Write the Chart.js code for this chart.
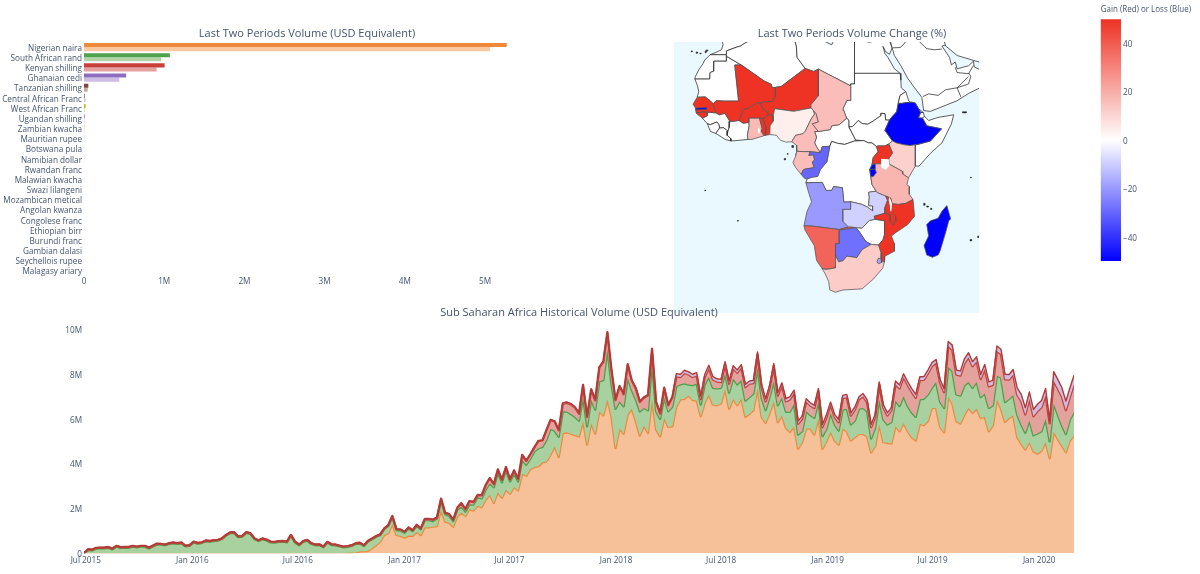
<!DOCTYPE html>
<html><head><meta charset="utf-8">
<style>html,body{margin:0;padding:0;background:#fff;width:1200px;height:574px;overflow:hidden}canvas{position:absolute}</style>
<script src="https://cdn.jsdelivr.net/npm/chart.js@4"></script>
</head><body>
<canvas id="bars" width="614" height="290" style="left:0;top:0"></canvas>
<canvas id="map" width="356" height="320" style="left:674px;top:0"></canvas>
<canvas id="cbar" width="104" height="270" style="left:1095px;top:0"></canvas>
<canvas id="area" width="1158" height="284" style="left:0;top:290px"></canvas>
<script>
// ---------- bar panel ----------
const currencies=["Nigerian naira","South African rand","Kenyan shilling","Ghanaian cedi","Tanzanian shilling","Central African Franc","West African Franc","Ugandan shilling","Zambian kwacha","Mauritian rupee","Botswana pula","Namibian dollar","Rwandan franc","Malawian kwacha","Swazi lilangeni","Mozambican metical","Angolan kwanza","Congolese franc","Ethiopian birr","Burundi franc","Gambian dalasi","Seychellois rupee","Malagasy ariary"];
const latestPeriod=[5.27,1.07,1.005,0.525,0.054,0.012,0.02,0.012,0.006,0.004,0.002,0.002,0.001,0.001,0.001,0.001,0.001,0.0005,0.0005,0.0005,0.0003,0.0002,0.0001];
const priorPeriod=[5.06,0.96,0.905,0.44,0.046,0.018,0.012,0.006,0.007,0.005,0.003,0.002,0.001,0.001,0.001,0.001,0.001,0.0005,0.0005,0.0005,0.0003,0.0002,0.0001];
const barColors=["#f0883c","#4ea34c","#c8403c","#8e6cc0","#7b4a42","#8a8a8a","#bcbd22","#e377c2","#f4b183","#aec7e8","#98df8a","#ff9896","#c5b0d5","#c49c94","#f7b6d2","#c7c7c7","#dbdb8d","#9edae5","#1f77b4","#ff7f0e","#2ca02c","#d62728","#9467bd"];
const barColorsLight=["#f9c7a0","#b0d4a5","#e3a19f","#cdbce3","#c4aba5","#c8c8c8","#e4e4a0","#f4c8e6","#fadcc6","#d8e4f4","#d0efc8","#ffd0cf","#e4d8ea","#e3cfca","#fbdde9","#e6e6e6","#eeeec8","#cfedf2","#a5c9e1","#ffcb9e","#abd9ab","#eea9a9","#d4c3e4"];
const volumeTicks=[0,1,2,3,4,5];
// ---------- history panel (millions of USD per week) ----------
const historyTickDays=[3,187,369,553,734,918,1099,1283,1464,1648];
const historyTickLabels=["Jul 2015","Jan 2016","Jul 2016","Jan 2017","Jul 2017","Jan 2018","Jul 2018","Jan 2019","Jul 2019","Jan 2020"];
const historyValueTicks=[0,2,4,6,8,10];
const naira=[0,.01,.01,.01,.01,.01,.01,.01,.01,.01,
.01,.01,.01,.01,.01,.01,.01,.01,.01,.01,
.01,.01,.01,.01,.01,.01,.01,.01,.01,.01,
.01,.01,.01,.01,.01,.01,.01,.01,.01,.01,
.01,.01,.01,.01,.01,.01,.01,.01,.01,.01,
.01,.01,.01,.01,.01,.01,.01,.01,.01,.01,
.01,.01,.01,.01,.01,.02,.02,.04,.09,.09,
.10,.22,.37,.52,.82,.90,1.31,.82,.78,.70,
.79,.78,.96,.82,1.16,1.16,1.19,1.22,1.94,1.42,
1.37,1.19,1.64,1.82,1.67,1.97,1.91,2.12,2.06,2.39,
2.61,2.25,2.72,2.48,2.84,2.66,2.96,2.81,3.55,3.46,
3.76,3.85,3.88,4.06,4.10,4.40,4.78,4.30,5.37,5.40,
5.34,5.28,5.22,5.90,4.85,5.82,5.34,6.34,6.15,6.87,
6.12,4.70,5.57,5.34,6.19,6.45,5.90,5.25,5.70,5.37,
6.87,5.52,5.22,6.04,5.64,5.67,6.54,6.87,6.90,7.04,
6.84,6.82,6.12,6.72,7.09,6.64,6.61,6.69,7.34,6.45,
6.90,6.61,6.91,6.09,6.22,6.39,7.39,6.09,5.82,6.27,
6.79,5.85,6.16,5.60,5.42,5.67,4.67,4.96,5.57,5.57,
5.30,6.04,4.66,5.00,5.42,5.03,4.85,5.57,5.45,5.03,
5.19,5.33,5.33,5.22,4.51,4.78,5.75,4.96,4.93,4.90,
5.67,5.45,5.82,5.45,5.19,5.03,5.78,5.72,5.90,6.49,
6.49,5.64,5.40,6.99,6.69,5.90,5.79,6.19,6.49,6.27,
6.46,6.04,6.09,5.45,5.70,6.87,6.45,5.87,6.04,6.16,
5.19,4.90,4.63,4.97,4.55,4.45,4.58,4.96,4.25,5.42,
5.10,4.81,4.51,5.04,5.25];
const rand=[0,.14,.12,.20,.21,.21,.24,.17,.29,.23,
.24,.24,.29,.26,.29,.29,.21,.30,.39,.38,
.35,.41,.44,.41,.44,.30,.32,.48,.42,.45,
.53,.51,.54,.56,.63,.78,.89,.90,.71,.74,
.90,.86,.63,.54,.62,.57,.48,.47,.50,.51,
.48,.78,.48,.35,.50,.56,.41,.35,.36,.26,
.47,.36,.35,.30,.26,.27,.31,.38,.35,.24,
.43,.41,.37,.29,.26,.33,.31,.22,.24,.22,
.32,.21,.27,.25,.32,.32,.25,.33,.42,.33,
.30,.25,.30,.27,.19,.22,.27,.39,.39,.45,
.52,.70,.87,.69,.87,.55,.60,.40,.63,.49,
.46,.70,.81,.69,.97,1.16,.69,.90,.97,.93,
.88,.81,.70,1.09,.82,1.04,1.07,1.34,1.58,2.24,
1.42,1.75,1.22,1.22,1.64,.84,.97,1.09,.79,1.01,
1.64,.82,.78,.94,.70,.87,.93,.67,.69,.49,
.67,.76,.52,.82,.79,.75,.75,.70,.67,.72,
.90,.93,.84,.73,.75,.75,.90,.85,.57,.72,
.90,.76,.81,.72,.90,1.01,.63,.49,.78,.60,
.75,.75,.57,.55,.85,.72,.63,.85,1.00,.72,
.73,1.12,1.16,1.12,.61,.82,1.12,1.01,.82,.96,
1.15,1.12,1.19,1.12,1.10,1.06,1.09,1.18,1.19,.90,
1.16,1.12,1.09,1.33,1.45,1.19,1.25,1.31,1.15,1.12,
1.19,.93,1.04,1.04,.90,1.07,1.39,.88,.85,.91,
1.00,.85,.75,.96,.72,.90,.87,1.04,.75,1.27,
1.09,.90,.82,.93,1.06];
const shilling=[0,.03,.03,.03,.03,.03,.03,.03,.03,.03,
.03,.03,.03,.03,.03,.03,.03,.03,.03,.03,
.03,.03,.03,.03,.03,.03,.03,.03,.03,.03,
.03,.03,.03,.03,.03,.03,.03,.03,.03,.03,
.03,.03,.03,.03,.03,.03,.03,.03,.03,.03,
.03,.03,.03,.03,.03,.03,.03,.03,.03,.03,
.03,.03,.03,.03,.03,.03,.03,.03,.03,.03,
.03,.03,.03,.03,.03,.03,.04,.04,.04,.04,
.04,.04,.04,.04,.05,.05,.06,.05,.08,.06,
.08,.06,.09,.15,.11,.14,.11,.09,.14,.20,
.23,.14,.15,.11,.14,.09,.14,.11,.21,.18,
.20,.18,.33,.29,.44,.39,.42,.29,.34,.39,
.43,.42,.31,.52,.42,.45,.42,.61,.82,.75,
.64,.39,.67,.54,.60,.42,.49,.42,.46,.67,
.61,.42,.24,.40,.27,.42,.43,.33,.46,.45,
.36,.36,.25,.33,.39,.37,.31,.25,.42,.40,
.45,.52,.55,.60,.60,.46,.58,.48,.39,.40,
.66,.43,.52,.46,.55,.48,.48,.55,.43,.43,
.43,.45,.40,.52,.36,.33,.37,.51,.52,.40,
.49,.42,.52,.40,.51,.48,.66,.55,.40,.52,
.72,.79,.85,.94,.91,.85,.86,.84,.94,.97,
.85,.85,.70,.93,.95,.89,.89,.98,1.11,.96,
.92,.81,1.10,.96,.92,1.09,1.05,1.02,.87,.91,
.89,1.04,.82,.97,.85,1.00,1.07,1.06,.80,1.02,
1.17,1.29,1.06,1.02,1.23];
const cedi=[0,.01,.01,.01,.01,.01,.01,.01,.01,.01,
.01,.01,.01,.01,.01,.01,.01,.01,.01,.01,
.01,.01,.01,.01,.01,.01,.01,.01,.01,.01,
.01,.01,.01,.01,.01,.01,.01,.01,.01,.01,
.01,.01,.01,.01,.01,.01,.01,.01,.01,.01,
.01,.01,.01,.01,.01,.01,.01,.01,.01,.01,
.01,.01,.01,.01,.01,.01,.01,.01,.01,.01,
.01,.01,.01,.01,.01,.01,.01,.01,.01,.01,
.01,.01,.01,.01,.01,.01,.01,.01,.01,.01,
.01,.01,.01,.01,.01,.01,.01,.01,.01,.01,
.01,.01,.01,.01,.01,.01,.01,.01,.01,.01,
.01,.01,.01,.01,.01,.01,.01,.01,.03,.03,
.03,.03,.03,.03,.03,.03,.03,.03,.03,.03,
.03,.03,.03,.03,.03,.03,.03,.03,.03,.03,
.03,.03,.03,.03,.03,.03,.12,.12,.12,.12,
.12,.12,.12,.12,.12,.12,.12,.12,.12,.12,
.12,.12,.12,.12,.12,.12,.12,.12,.12,.12,
.12,.12,.12,.12,.12,.12,.12,.12,.12,.12,
.12,.12,.12,.12,.12,.12,.12,.12,.12,.12,
.12,.12,.12,.12,.12,.12,.12,.12,.12,.12,
.15,.15,.15,.15,.15,.15,.15,.15,.15,.15,
.15,.15,.15,.20,.20,.20,.20,.20,.20,.20,
.20,.20,.20,.20,.20,.22,.22,.22,.22,.22,
.30,.30,.30,.30,.30,.30,.30,.30,.10,.40,
.40,.40,.40,.40,.40];
// ---------- map panel: [lon,lat,...] outlines, change in % (null = no data) ----------
const countryNames=["Morocco","Western Sahara","Mauritania","Algeria","Tunisia","Libya","Egypt","Sudan","South Sudan","Eritrea","Djibouti","Somalia","Guinea","Sierra Leone","Liberia","Cote d'Ivoire","Central African Republic","Equatorial Guinea","DR Congo","Zimbabwe","Lesotho","Arabia","Iran",
"Senegal","Gambia","Guinea-Bissau","Mali","Burkina Faso","Ghana","Togo","Benin","Niger","Nigeria","Cameroon","Chad","Gabon","Congo","Ethiopia","Kenya","Uganda","Rwanda","Burundi","Tanzania","Angola","Zambia","Malawi","Mozambique","Namibia","Botswana","South Africa","Swaziland","Madagascar"];
const countryChange=[null,null,null,null,null,null,null,null,null,null,null,null,null,null,null,null,null,null,null,null,null,null,null,
50,-50,50,50,50,17,50,50,50,4,16,16,16,-30,-50,11.5,50,-50,-50,18,-20,-9,50,50,38,-28,12.5,-18,-50];
const countryShapes=[
[-9.8,31.5,-9.6,30.3,-10,29,-11.5,28.3,-13,27.7,-8.7,27.7,-8.7,28.7,-6,29.7,-5,30,-3.6,30.9,-1.2,32.1,-1,33,-2,35,-5,35.7,-6,35.8,-7,33.8,-9,32.8],
[-13,27.7,-8.7,27.7,-8.7,27.3,-8.7,26,-12,26,-12,23.4,-13,23,-13.1,21.3,-17,21.3,-16.9,21.9,-16,23.7,-14.9,25.3,-14.4,26.3],
[-17,21.3,-13.1,21.3,-13,23,-12,23.4,-12,26,-8.7,26,-8.7,27.3,-4.8,25,-6.5,25,-5.5,15.5,-9.3,15.5,-11.4,15.6,-12.2,14.8,-13,15.6,-14.3,16.6,-16.4,16.5,-16,18,-16.3,19.5],
[-8.7,27.3,-8.7,28.7,-6,29.7,-5,30,-3.6,30.9,-1.2,32.1,-1,33,-2,35,1,36.5,8.6,37,8.3,34.6,7.5,33.8,9.1,32.1,9.7,30,9.9,27,12,24.1,5.8,19.4,4.2,19.1,3.3,19,3.1,19.9,1.2,20.8,-4.8,25],
[8.6,37,11,37,10.2,34.5,11.5,33.2,9.1,32.1,7.5,33.8,8.3,34.6],
[9.1,32.1,11.5,33.2,15,32.3,19,30.3,20,32.5,25,31.7,25,22.8,25,20,24,20,24,19.5,15.5,23.9,14.2,23.3,12,24.1,9.9,27,9.7,30],
[25,31.7,29,31,31,31.5,34.2,31.3,34.9,29.5,34.2,27.8,33.2,28.5,32.5,29.9,33,28,33.8,27,35.5,24,37,22.8,25,22.8],
[25,22.8,37,22.8,37.2,21,37.3,19,38.5,18,37,17,36.5,14.9,36.1,12.7,35,11.5,34.2,10.5,33.2,10.5,33,12.2,32,12.3,32,11.7,30,10.3,28.5,9.4,27,9.6,26,10.4,24.5,8.8,23.5,8.7,23.5,10.5,22.9,11,22.2,13,22,13.6,23,15.7,24,15.7,24,19.5,24,20,25,20],
[33,7.8,35,5,34,4.2,33,3.7,31,3.7,30.8,3.5,29.6,4.5,28.7,4.5,27.4,5.1,25.3,5.2,23.5,8.7,24.5,8.8,26,10.4,27,9.6,28.5,9.4,30,10.3,32,11.7,32,12.3,33,12.2,33.2,10.5,34.2,10.5],
[36.5,14.9,37,17,38.5,18,39.3,15.5,43.1,12.5,42.4,12.5,41,15,40,15.2,38.5,15.1,37.5,14.9],
[42.4,12.5,43.1,12.5,43.4,11.5,42.9,11,41.8,11.1],
[42.9,11,43.4,11.5,44.5,10.4,47,11.2,51.1,11.9,50.5,9.5,48,4.5,45,1.8,42,-1.6,41,-1.6,41,4,42,4.2,45,5,47.9,8.2,44,9],
[-15,11,-13.7,9.5,-12.9,9.3,-11.2,10,-10.7,9.3,-10.5,8.4,-9.5,8.5,-8.3,7.6,-8,8.5,-7.8,10.2,-8.3,11,-9.1,12.3,-10.6,11.9,-11.4,12.4,-13.7,12.6,-13.7,11.7],
[-13.7,9.5,-12.9,9.3,-11.2,10,-10.7,9.3,-10.5,8.4,-11.5,7,-12.9,7.5],
[-11.5,7,-10.5,8.4,-9.5,8.5,-8.3,7.6,-8.5,6.5,-7.5,5.6,-7.5,5,-9,5.4],
[-8,8.5,-8.3,7.6,-8.5,6.5,-7.5,5.6,-7.5,5,-3,5.4,-3.2,6.5,-2.7,9,-2.8,9.9,-4.3,9.7,-5.4,10.4,-7,10.2,-7.8,10.2],
[14.5,4.5,15,3.5,16,1.9,16.5,3.5,18.5,3.6,19,4.9,20.5,4.4,22.4,4.1,25,5,27.4,5.1,25.3,5.2,23.5,8.7,23.5,10.5,22.9,11,21,9.3,19,9,18.6,8,15.5,7.5,14.5,7.5,15,6],
[9.8,2.3,9.5,1,11.3,1,11.3,2.2],
[12.2,-6,12.5,-5,13,-4.6,15.3,-4.3,16,-2.5,17.7,-.5,18.5,3.6,19,4.9,20.5,4.4,22.4,4.1,25,5,27.4,5.1,28.7,4.5,29.6,4.5,30.8,3.5,31.2,2.2,29.9,.6,29.6,-1.3,29,-2.5,29.3,-4.4,29.6,-6.5,30.7,-8.2,28.7,-8.5,28.9,-9.8,28.7,-12,29.8,-12.1,29.8,-13.4,28.4,-12.4,27,-11.7,25.4,-11.3,24,-11,22.2,-11.1,21.8,-7.3,19.5,-7,19,-8,17.5,-8,16.5,-5.9],
[25.3,-17.8,27,-17.9,28.9,-15.9,30.4,-15.6,33,-16,32.8,-18,33,-19.5,32.5,-21,31.3,-22.4,29.4,-22.2,28,-21.5,27,-20,26,-18.5],
[27,-29.7,28.2,-28.8,29.4,-29.5,28.8,-30.4,27.8,-30.5],
[34.9,29.5,35.5,27.5,37.2,24.8,39,21.5,40.8,19,42.7,16.5,43.2,13,45,12.8,48,14,52,15.6,55,17.5,58,19,60,22.5,59.5,23,56.5,24.5,56.3,26,55,24.8,52,24,51.5,25.8,50.5,25,50,27,48,30,60,33,34,33],
[49,30,52,27.5,57,26,61,25,61,33,48,33],
[-17.5,14.7,-16.4,16.5,-14.3,16.6,-13,15.6,-12.2,14.8,-11.8,13.3,-11.4,12.4,-13.7,12.6,-15,12.6,-16.7,12.4,-16.8,13.2,-16.8,13.6],
[-16.8,13.65,-14,13.8,-13.8,13.3,-16.8,13.2],
[-16.7,12.4,-15,12.6,-13.7,12.6,-13.7,11.7,-15,11,-16.2,11.9],
[-12.2,14.8,-11.4,15.6,-9.3,15.5,-5.5,15.5,-6.5,25,-4.8,25,1.2,20.8,3.1,19.9,3.3,19,4.2,19.1,4.2,16.8,3.5,15.4,1.3,15.3,.2,14.9,-.5,15.1,-2,14.2,-3,13.6,-4.3,13.2,-5.4,10.4,-7,10.2,-7.8,10.2,-8.3,11,-9.1,12.3,-10.6,11.9,-11.4,12.4,-11.8,13.3],
[-5.4,10.4,-4.3,9.7,-2.8,9.9,-2.8,11,0,11,.9,10.9,2.4,11.9,2.1,12.7,1,13.3,.2,14.9,-.5,15.1,-2,14.2,-3,13.6,-4.3,13.2],
[-3,5.4,-2,5.4,1.2,6.4,.5,7.5,.7,8.3,0,11,-2.8,11,-2.8,9.9,-2.7,9,-3.2,6.5],
[1.2,6.4,1.6,6.5,1.6,9,.9,10.9,0,11,.7,8.3,.5,7.5],
[1.6,6.5,2.7,6.7,2.8,9,3.6,10.2,3.6,11.7,2.4,11.9,.9,10.9,1.6,9],
[.2,14.9,1,13.3,2.1,12.7,2.4,11.9,3.6,11.7,4,13.5,6.8,13.1,9,12.8,13.6,13.7,13.5,14.5,15.5,16.9,15.5,23.9,14.2,23.3,12,24.1,5.8,19.4,4.2,19.1,4.2,16.8,3.5,15.4,1.3,15.3],
[2.7,6.7,4.5,6.5,5.5,5.2,7,4.7,8.5,4.8,9.5,6.5,11.4,6.9,12,7.5,13.6,10.8,14.5,12.1,14.2,13,13.6,13.7,9,12.8,6.8,13.1,4,13.5,3.6,11.7,3.6,10.2,2.8,9],
[8.5,4.8,9.7,3.9,9.8,2.3,11.3,2.2,13.3,2.2,16,1.9,15,3.5,14.5,4.5,15,6,14.5,7.5,15.5,7.5,13.9,9.5,15.5,10,14.9,12.2,14.2,13,14.5,12.1,13.6,10.8,12,7.5,11.4,6.9,9.5,6.5],
[13.5,14.5,13.6,13.7,14.2,13,14.9,12.2,15.5,10,13.9,9.5,15.5,7.5,18.6,8,19,9,21,9.3,22.9,11,22.2,13,22,13.6,23,15.7,24,15.7,24,19.5,15.5,23.9,15.5,16.9],
[9.8,2.3,11.3,2.2,13.3,2.2,13,1.2,14.2,1.4,14.5,0,13.9,-.5,14.4,-2,12,-2.4,11.5,-2.6,11,-3.8,9.5,-2,8.8,-.7,9.5,1],
[13,1.2,13.3,2.2,16,1.9,16.5,3.5,18.5,3.6,17.7,-.5,16,-2.5,15.3,-4.3,14,-4.5,12.5,-5,11.8,-4.8,11,-3.8,11.5,-2.6,12,-2.4,14.4,-2,13.9,-.5,14.5,0,14.2,1.4],
[36.5,14.9,37.5,14.9,38.5,15.1,40,15.2,41,15,42.4,12.5,41.8,11.1,42.9,11,44,9,47.9,8.2,45,5,42,4.2,41,4,39.6,3.8,38,4,36,4.5,35,5,33,7.8,34.2,10.5,35,11.5,36.1,12.7],
[41,4,41,-1.6,39.2,-4.7,37.7,-3.7,37.6,-3,34,-1,33.9,.2,35,1.9,34,4.2,35,5,36,4.5,38,4,39.6,3.8],
[34,4.2,35,1.9,33.9,.2,34,-1,30.5,-1,29.6,-1.3,29.9,.6,31.2,2.2,30.8,3.5,31,3.7,33,3.7],
[30.5,-1,29.6,-1.3,29,-2.5,30.4,-2.4],
[29,-2.5,30.4,-2.4,30.8,-3.3,29.9,-4.4,29.3,-4.4],
[34,-1,37.6,-3,37.7,-3.7,39.2,-4.7,38.8,-6.5,39.5,-7,39.4,-9,40.4,-10.4,38.5,-11.4,36.5,-11.7,34.9,-11.5,34.5,-10,33.2,-9.5,31,-8.6,30.7,-8.2,29.6,-6.5,29.3,-4.4,29.9,-4.4,30.8,-3.3,30.4,-2.4,30.5,-1],
[12.2,-6,16.5,-5.9,17.5,-8,19,-8,19.5,-7,21.8,-7.3,22.2,-11.1,24,-11,24,-13,22,-13,22,-16.2,23.4,-17.6,21,-18.3,13.9,-17.4,11.7,-17.3,12.5,-13.5,13.7,-11,13,-8.8],
[22,-13,24,-13,24,-11,25.4,-11.3,27,-11.7,28.4,-12.4,29.8,-13.4,29.8,-12.1,28.7,-12,28.9,-9.8,28.7,-8.5,30.7,-8.2,31,-8.6,33.2,-9.5,33.7,-10.6,33,-12.5,33,-14,30.2,-14.8,30.4,-15.6,28.9,-15.9,27,-17.9,25.3,-17.8,23.4,-17.6,22,-16.2],
[33.2,-9.5,34.5,-10,34.9,-11.5,34.5,-13.5,35.3,-14.3,35.9,-15,35.8,-16,35.2,-17.1,34.4,-16.2,34.4,-14.5,33,-14,33,-12.5,33.7,-10.6],
[40.4,-10.4,40.8,-14.8,39,-17,36,-19,34.7,-20,35.5,-22,35.5,-24,33,-25.3,32.9,-26.8,32,-26.8,32,-24.5,31.3,-22.4,32.5,-21,33,-19.5,32.8,-18,33,-16,30.4,-15.6,30.2,-14.8,33,-14,34.4,-14.5,34.4,-16.2,35.2,-17.1,35.8,-16,35.9,-15,35.3,-14.3,34.5,-13.5,34.9,-11.5,36.5,-11.7,38.5,-11.4],
[11.7,-17.3,13.9,-17.4,21,-18.3,23.4,-17.6,25.3,-17.8,24,-18,21,-18.5,21,-22,20,-22,20,-28.4,17.5,-28.8,16.5,-28.6,15,-26.4,14.4,-22.5,12,-18.5],
[21,-18.5,24,-18,25.3,-17.8,26,-18.5,27,-20,28,-21.5,29.4,-22.2,27,-23.6,25.6,-25.7,23,-25.3,22,-26.5,20.8,-26.8,20,-25,20,-22,21,-22],
[16.5,-28.6,17.5,-28.8,20,-28.4,20,-25,20.8,-26.8,22,-26.5,23,-25.3,25.6,-25.7,27,-23.6,29.4,-22.2,31.3,-22.4,32,-24.5,32,-26.8,32.9,-26.8,32.4,-28.5,30,-31.3,27,-33.9,25.6,-34,22,-34.2,20,-34.8,18.5,-34.2,18.2,-32,17.2,-29.8],
[30.9,-26.8,31.3,-25.8,32,-26,32.1,-27,31.3,-27.3],
[49.3,-12,50.3,-15.5,49.8,-16,49,-19,47.5,-24,47,-25,45.5,-25.6,44,-25,43.3,-22.5,44.5,-20,44,-17,45,-16,47,-15.3,48,-13.5]
];
const lakeShapes=[[32,.3,34,.2,34.2,-1.5,33.2,-2.6,32,-2],[34.2,-9.7,34.9,-11.5,34.7,-13.5,34.4,-13.5,34.3,-12,34,-10.5],[-.2,6.8,.2,7.5,-.1,8.6,-.5,8,-.3,7.1]];
const islandShapes=[[-18,28.7,-17.7,28.7,-17.7,28.5,-18,28.5],[-16.7,28.4,-16.3,28.4,-16.3,28.1,-16.7,28.1],[-15.7,28.1,-15.4,28.1,-15.4,27.9,-15.7,27.9],[-14.3,28.7,-13.8,29,-13.6,28.8,-14.1,28.2],[-14.4,-7.9,-14.2,-7.9,-14.2,-8.1,-14.4,-8.1],[-5.8,-15.9,-5.6,-15.9,-5.6,-16.1,-5.8,-16.1],[6.5,.4,6.8,.4,6.8,0,6.5,0],[7.3,1.7,7.5,1.7,7.5,1.5,7.3,1.5],[8.5,3.8,8.9,3.8,8.9,3.3,8.5,3.3],[43.2,-11.4,43.5,-11.4,43.5,-11.9,43.2,-11.9],[44,-12.1,44.4,-12.1,44.4,-12.4,44,-12.4],[45,-12.7,45.3,-12.7,45.3,-13,45,-13],[55.5,-4.5,55.7,-4.5,55.7,-4.7,55.5,-4.7],[55.4,-20.9,55.8,-20.9,55.8,-21.3,55.4,-21.3],[57.4,-20,57.7,-20,57.7,-20.4,57.4,-20.4],[53.4,12.7,54.4,12.7,54.4,12.4,53.4,12.4]];
const landBorders=[[43,16.7,44.5,17.4,47,17,49,18.5,52,19,53,16.6],[52,19,55,20,55.6,22,55.2,22.7,52,23,51.5,24.4],[52,19,55,22],[34.9,29.5,37,29.6,38,30.5,39,32],[48,29.2,46,29,44,29.3,42,31.2],[55,22.7,56.3,24.9]];
const colorStops=[-50,0,50];
const colorStopRGB=[[0,0,255],[255,255,255],[238,50,36]];
const mapLonRange=[-22.5,57.76];
const mapLatRange=[-40.26,31.05];
const colorBarTicks=[-40,-20,0,20,40];

// ---------- common ----------
Chart.defaults.font.family="'Open Sans', sans-serif";
Chart.defaults.color="#44546f";
Chart.defaults.animation=false;
Chart.defaults.responsive=false;
const TITLE_SIZE=11,TICK_SIZE=8.2,TITLE_COLOR="#44546f",LABEL_NUDGE=1.4;
const titleCfg=(text,top,bottom,size=TITLE_SIZE,fullSize=true)=>({display:true,text,fullSize,color:TITLE_COLOR,font:{size,weight:'normal',lineHeight:1.2},padding:{top,bottom}});
const noneCfg={legend:{display:false},tooltip:{enabled:false}};
const pairs=a=>{const o=[];for(let i=0;i<a.length;i+=2)o.push({x:a[i],y:a[i+1]});o.push({x:a[0],y:a[1]});return o;};
const openPairs=a=>{const o=[];for(let i=0;i<a.length;i+=2)o.push({x:a[i],y:a[i+1]});return o;};
const fmtM=v=>v===0?"0":v+"M";
function colorFor(v){
  if(v===null)return "#ffffff";
  const i=v<colorStops[1]?0:1;
  const t=(v-colorStops[i])/(colorStops[i+1]-colorStops[i]);
  const c=colorStopRGB[i].map((s,k)=>Math.round(s+(colorStopRGB[i+1][k]-s)*t));
  return `rgb(${c[0]},${c[1]},${c[2]})`;
}

// ---------- bars ----------
new Chart(document.getElementById('bars'),{
  type:'bar',
  data:{labels:currencies,datasets:[
    {data:latestPeriod,backgroundColor:barColors,categoryPercentage:.8,barPercentage:1},
    {data:priorPeriod,backgroundColor:barColorsLight,categoryPercentage:.8,barPercentage:1}]},
  options:{indexAxis:'y',layout:{autoPadding:false,padding:{right:84,bottom:0}},
    plugins:{...noneCfg,title:titleCfg("Last Two Periods Volume (USD Equivalent)",27.4,1.4,TITLE_SIZE,false)},
    scales:{
      y:{grid:{display:false,drawTicks:false},border:{display:false},ticks:{autoSkip:false,padding:2,labelOffset:LABEL_NUDGE,font:{size:TICK_SIZE}},afterFit(s){s.width=84;}},
      x:{min:0,max:5.56,grid:{display:false,drawTicks:false},border:{display:false},
        afterBuildTicks(s){s.ticks=volumeTicks.map(value=>({value}));},
        ticks:{padding:1,maxRotation:0,autoSkip:false,font:{size:TICK_SIZE},callback:fmtM},afterFit(s){s.height=14.2;}}
    }}
});

// ---------- map ----------
const mapSets=[];
const shapeSet=(pts,fillC,lineC,w)=>({data:pts,showLine:true,fill:'shape',backgroundColor:fillC,borderColor:lineC,borderWidth:w,pointRadius:0,tension:0});
countryShapes.forEach((s,i)=>{const v=countryChange[i];mapSets.push(shapeSet(pairs(s),colorFor(v),v===null?"#2b2b2b":"#555555",.75));});
lakeShapes.forEach(s=>mapSets.push(shapeSet(pairs(s),"#ffffff","rgba(0,0,0,0)",0)));
islandShapes.forEach(s=>mapSets.push(shapeSet(pairs(s),"#333333","#222222",.5)));
landBorders.forEach(s=>mapSets.push({data:openPairs(s),showLine:true,fill:false,borderColor:"#2b2b2b",borderWidth:.75,pointRadius:0,tension:0}));
// datasets draw last-to-first, so reverse to keep coloured countries above the white ones
mapSets.reverse();
new Chart(document.getElementById('map'),{
  type:'scatter',
  data:{datasets:mapSets},
  options:{layout:{autoPadding:false,padding:{bottom:7}},
    plugins:{...noneCfg,title:titleCfg("Last Two Periods Volume Change (%)",27.4,1.4)},
    scales:{x:{type:'linear',display:false,min:mapLonRange[0],max:mapLonRange[1]},y:{type:'linear',display:false,min:mapLatRange[0],max:mapLatRange[1]},
      titleOffset:{position:'right',min:0,max:1,grid:{display:false,drawTicks:false},border:{display:false},ticks:{display:false},afterFit(s){s.width=51;}}}},
  plugins:[{id:'ocean',beforeDatasetsDraw(c){const a=c.chartArea,g=c.ctx;g.save();g.fillStyle="#eaf8ff";g.fillRect(a.left,a.top,a.right-a.left,a.bottom-a.top);g.restore();}}]
});

// ---------- colour bar ----------
new Chart(document.getElementById('cbar'),{
  type:'bar',
  data:{labels:[""],datasets:[{data:[[colorStops[0],colorStops[2]]],categoryPercentage:1,barPercentage:1,
    backgroundColor(ctx){const c=ctx.chart,y=c.scales.y;if(!c.chartArea||!y)return "#fff";
      const g=c.ctx.createLinearGradient(0,y.getPixelForValue(colorStops[0]),0,y.getPixelForValue(colorStops[2]));
      colorStops.forEach(v=>g.addColorStop((v-colorStops[0])/(colorStops[2]-colorStops[0]),colorFor(v)));return g;}}]},
  options:{layout:{autoPadding:false,padding:{left:5.7,right:8,bottom:9}},
    plugins:{...noneCfg,title:titleCfg("Gain (Red) or Loss (Blue)",5,4.3,TICK_SIZE)},
    scales:{x:{display:false},
      y:{position:'right',min:-50,max:50,grid:{display:false,drawTicks:false},border:{display:false},
        afterBuildTicks(s){s.ticks=colorBarTicks.map(value=>({value}));},
        ticks:{padding:2,labelOffset:LABEL_NUDGE,font:{size:TICK_SIZE},callback:v=>String(v).replace('-','\u2212')},afterFit(s){s.width=70;}}}}
});

// ---------- history ----------
const week=i=>i*7;
const stackedSeries=[naira,rand,shilling,cedi];
const stackTop=idx=>naira.map((_,i)=>({x:week(i),y:stackedSeries.slice(0,idx+1).reduce((t,a)=>t+a[i],0)}));
new Chart(document.getElementById('area'),{
  type:'line',
  data:{datasets:[
    {data:stackTop(0),fill:'origin',backgroundColor:"#f6c199",borderColor:"#ec8b3f",order:4,borderWidth:2.4},
    {data:stackTop(1),fill:'-1',backgroundColor:"#a9d09f",borderColor:"#4c9f4a",order:3,borderWidth:2.4},
    {data:stackTop(2),fill:'-1',backgroundColor:"#e3a29c",borderColor:"#c4423c",order:2,borderWidth:2.4},
    {data:stackTop(3),fill:'-1',backgroundColor:"#cdbde3",borderColor:"#b03a38",order:1,borderWidth:1.4}
  ].map(d=>({...d,pointRadius:0,tension:0,borderJoinStyle:'round',borderCapStyle:'round'}))},
  options:{layout:{autoPadding:false,padding:{right:84}},
    plugins:{...noneCfg,title:titleCfg("Sub Saharan Africa Historical Volume (USD Equivalent)",16.4,.9,TITLE_SIZE,false)},
    scales:{
      x:{type:'linear',min:0,max:week(naira.length-1),grid:{display:false,drawTicks:false},border:{display:false},
        afterBuildTicks(s){s.ticks=historyTickDays.map(value=>({value}));},
        ticks:{padding:2,maxRotation:0,autoSkip:false,font:{size:TICK_SIZE},callback:v=>historyTickLabels[historyTickDays.indexOf(v)]},afterFit(s){s.height=20.7;}},
      y:{min:0,max:10.39,grid:{display:false,drawTicks:false},border:{display:false},
        afterBuildTicks(s){s.ticks=historyValueTicks.map(value=>({value}));},
        ticks:{padding:2,labelOffset:LABEL_NUDGE,font:{size:TICK_SIZE},callback:fmtM},afterFit(s){s.width=84;}}
    }}
});
</script>
</body></html>
